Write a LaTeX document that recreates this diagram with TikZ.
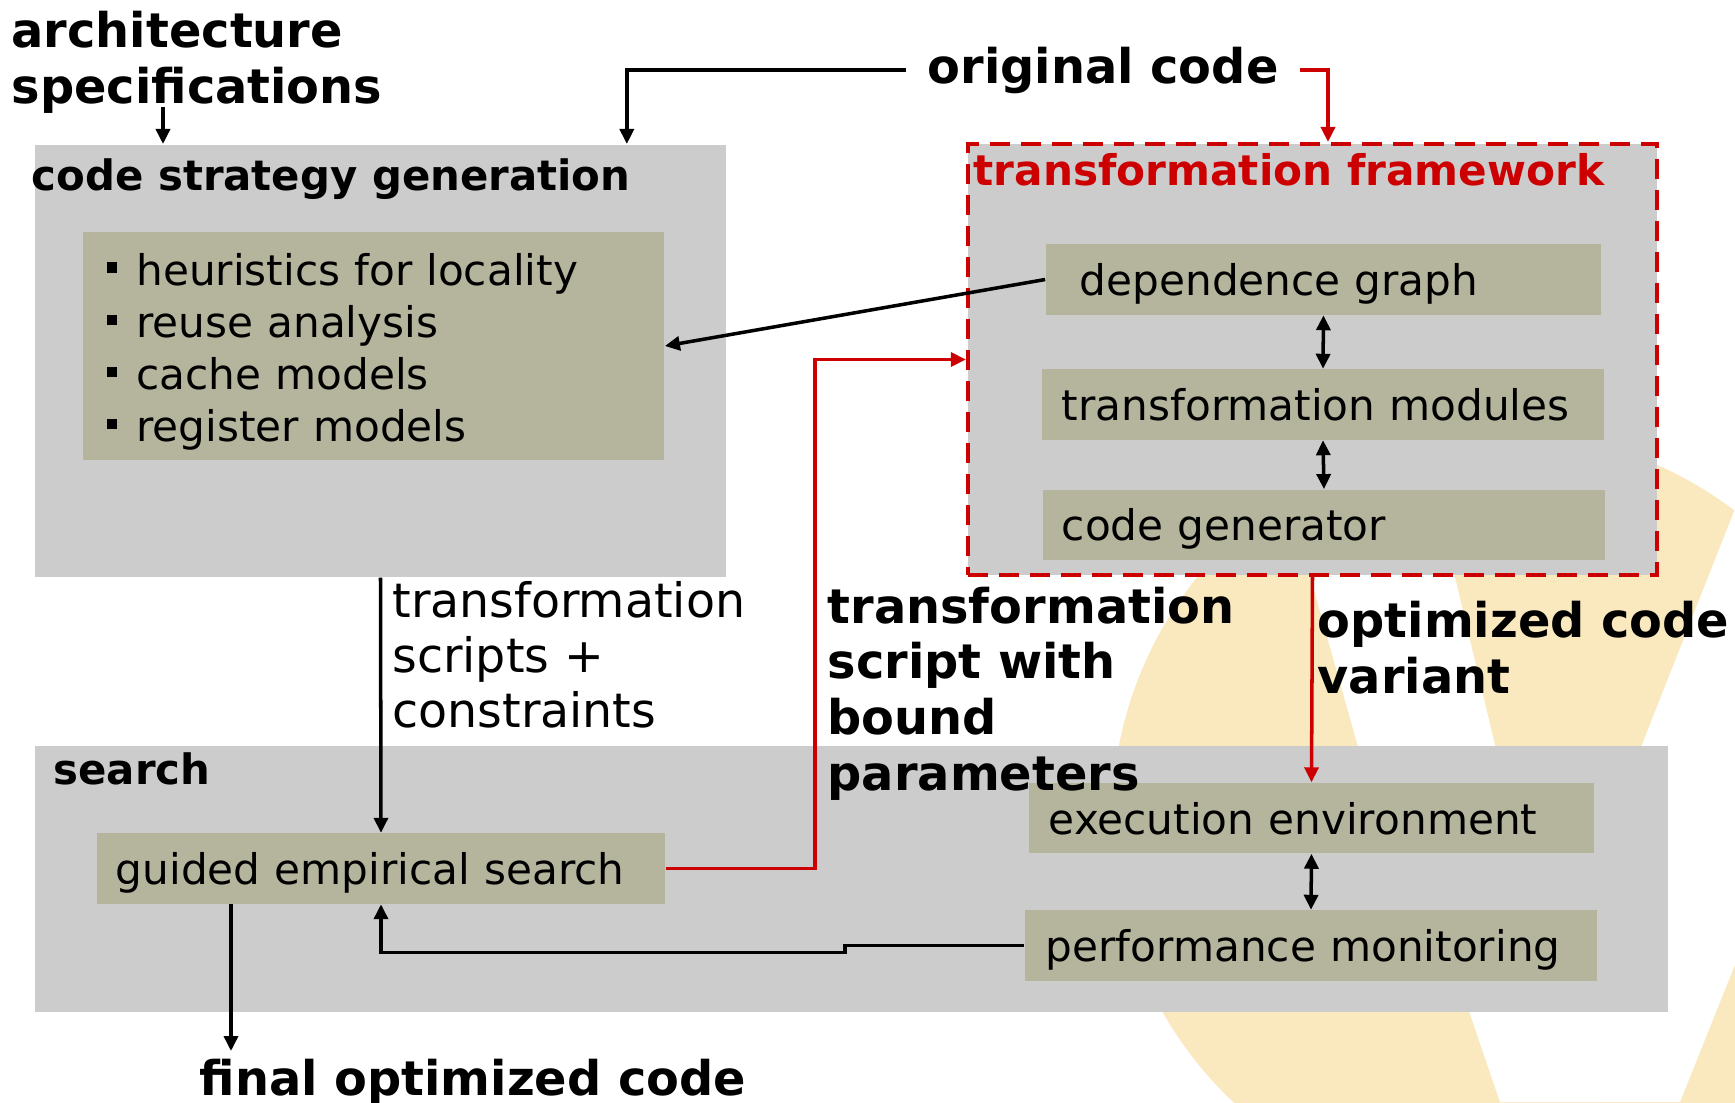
\documentclass[tikz,border=0pt]{standalone}
\usepackage{fontspec}
\setmainfont{DejaVu Sans}
\usetikzlibrary{arrows.meta,calc}
\definecolor{PanelGray}{RGB}{204,204,204}
\definecolor{Khaki}{RGB}{181,181,157}
\definecolor{FlowRed}{RGB}{204,0,0}
\definecolor{Wash}{RGB}{250,233,190}
\newcommand{\bulsq}{\raisebox{0.123cm}{\rule{0.107cm}{0.107cm}}\hspace{0.19cm}}

\begin{document}
\begin{tikzpicture}[x=0.01cm, y=-0.01cm,
    panel/.style={rectangle, fill=PanelGray, inner sep=0pt},
    modbox/.style={rectangle, fill=Khaki, inner ysep=0pt, align=left, minimum height=0.70cm, text height=0.42cm, text depth=0.10cm, font=\fontsize{12}{14}\selectfont},
    headline/.style={inner sep=0pt, font=\fontsize{11.9}{14}\selectfont\bfseries},
    biglabel/.style={inner sep=0pt, align=left, font=\fontsize{13.6}{15.8}\selectfont\bfseries},
    arrow/.style={-{Triangle[length=0.15cm,width=0.14cm]}, line width=1pt},
    twoway/.style={{Triangle[length=0.15cm,width=0.14cm]}-{Triangle[length=0.15cm,width=0.14cm]}, line width=1pt},
    redarrow/.style={arrow, FlowRed}
]
    \useasboundingbox (0,0) rectangle (1735,1102);

    % faint logo in the background
    \begin{scope}
        \clip (0,0) rectangle (1735,1102);
        \fill[Wash] (1500,820) circle[radius=3.88cm];
        \fill[white] (1269,430) -- (1420,430) -- (1508,800) -- (1600,1102) -- (1500,1102) -- (1469,1011) -- (1373,800) -- cycle;
        \fill[white] (1778,400) -- (1501,1102) -- (1680,1102) -- (1961,400) -- cycle;
    \end{scope}

    % Panels
    \node[panel, minimum width=6.91cm, minimum height=4.32cm] (csg) at (380.5,360.8) {};
    \node[panel, minimum width=16.33cm, minimum height=2.65cm] (srch) at (851.5,879) {};
    \node[panel, draw=FlowRed, dash pattern=on 0.2cm off 0.11cm, line width=1.1pt, minimum width=6.89cm, minimum height=4.31cm] (tf) at (1312.5,359.5) {};

    \node[headline, anchor=base west] (csgtitle) at (31,190.7) {code strategy generation};
    \node[headline, anchor=base west, text=FlowRed, font=\fontsize{12}{14}\selectfont\bfseries] (tftitle) at (973,185) {transformation framework};
    \node[headline, anchor=base west] (srchtitle) at (53,784.3) {search};

    % Code strategy generation
    \node[rectangle, fill=Khaki, inner xsep=0.234cm, inner ysep=0pt, text width=5.339cm, align=left, minimum height=2.27cm, text height=0.42cm, text depth=1.63cm, font=\fontsize{12}{14.8}\selectfont] (heur) at (373.7,346)
        {\bulsq heuristics for locality\\ \bulsq reuse analysis\\ \bulsq cache models\\ \bulsq register models};

    % Transformation framework
    \node[modbox, inner xsep=0.34cm, text width=4.87cm] (dep) at (1323.5,279.5) {dependence graph};
    \node[modbox, inner xsep=0.20cm, text width=5.22cm] (mods) at (1323,404.5) {transformation modules};
    \node[modbox, inner xsep=0.19cm, text width=5.24cm] (gen) at (1324,524.8) {code generator};

    % Search
    \node[modbox, inner xsep=0.20cm, text width=5.25cm] (exec) at (1311.5,818) {execution environment};
    \node[modbox, inner xsep=0.21cm, text width=5.30cm] (perf) at (1311,945.5) {performance monitoring};
    \node[modbox, inner xsep=0.19cm, text width=5.30cm] (ges) at (381,868.5) {guided empirical search};

    % Labels (base = last line)
    \node[biglabel, anchor=base west] (arch) at (11,103) {architecture\\specifications};
    \node[biglabel, anchor=base west, inner xsep=0.21cm] (orig) at (906,83) {original code};
    \node[anchor=base west, inner sep=0pt, align=left, font=\fontsize{13.5}{15.6}\selectfont] (tsc) at (391.7,727) {transformation\\scripts +\\constraints};
    \node[biglabel, anchor=base west] (bound) at (827,790) {transformation\\script with\\bound\\parameters};
    \node[biglabel, anchor=base west] (ocv) at (1317,693) {optimized code\\variant};
    \node[biglabel, anchor=base west] (final) at (199,1095) {final optimized code};

    % Arrows
    \coordinate (archout) at (163,107);
    \coordinate (finalin) at (231,1051);
    \draw[arrow] (archout) -- (archout |- csg.north);
    \draw[arrow] (orig.west) -| ([xshift=-1cm]csg.north east);
    \draw[redarrow] (orig.east) -| ([xshift=0.155cm]tf.north);
    \draw[arrow] (dep.west) -- (heur.east);
    \draw[twoway] (dep.south) -- (mods.north);
    \draw[twoway] (mods.south) -- (gen.north);
    \draw[redarrow] (tf.south) -- (exec.north);
    \draw[twoway] (exec.south) -- (perf.north);
    \draw[arrow] (csg.south) -- (ges.north);
    \draw[redarrow] (ges.east) -- ++(149,0) |- (tf.west);
    \draw[arrow] (perf.west) -- ++(-179,0) -- ++(0,7) -| (ges.south);
    \draw[arrow] (ges.south -| finalin) -- (finalin);
\end{tikzpicture}
\end{document}
